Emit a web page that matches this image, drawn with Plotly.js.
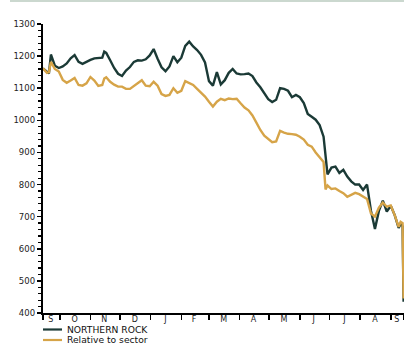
<!DOCTYPE html>
<html><head><meta charset="utf-8">
<script src="https://cdn.plot.ly/plotly-3.0.1.min.js"></script>
<style>
html,body{margin:0;padding:0;background:#fff;}
#band{position:absolute;left:10px;top:0;width:394px;height:2px;background:#cbd8cf;z-index:5;}
#chart{width:404px;height:345px;}
</style>
</head><body>
<div id="band"></div>
<div id="chart"></div>
<script>
const dates = [
'2006-09-14','2006-09-18','2006-09-20','2006-09-22','2006-09-26','2006-09-30',
'2006-10-04','2006-10-08','2006-10-12','2006-10-16','2006-10-20','2006-10-24','2006-10-28',
'2006-11-01','2006-11-05','2006-11-09','2006-11-13','2006-11-15','2006-11-17','2006-11-21','2006-11-25','2006-11-29',
'2006-12-03','2006-12-07','2006-12-11','2006-12-15','2006-12-19','2006-12-23','2006-12-27','2006-12-31',
'2007-01-04','2007-01-08','2007-01-12','2007-01-16','2007-01-20','2007-01-24','2007-01-28',
'2007-02-01','2007-02-05','2007-02-09','2007-02-13','2007-02-17','2007-02-21','2007-02-25',
'2007-03-01','2007-03-05','2007-03-09','2007-03-13','2007-03-17','2007-03-21','2007-03-25','2007-03-29',
'2007-04-02','2007-04-06','2007-04-10','2007-04-14','2007-04-18','2007-04-22','2007-04-26','2007-04-30',
'2007-05-04','2007-05-08','2007-05-12','2007-05-16','2007-05-20','2007-05-24','2007-05-28',
'2007-06-01','2007-06-05','2007-06-09','2007-06-13','2007-06-17','2007-06-21','2007-06-25','2007-06-27','2007-06-29',
'2007-07-03','2007-07-07','2007-07-11','2007-07-15','2007-07-19','2007-07-23','2007-07-27','2007-07-31',
'2007-08-04','2007-08-08','2007-08-12','2007-08-16','2007-08-20','2007-08-24','2007-08-28',
'2007-09-01','2007-09-05','2007-09-09','2007-09-11','2007-09-13','2007-09-14'
];
const northernRock = [
1162,1150,1146,1205,1170,1163,
1168,1177,1193,1203,1182,1176,1183,
1188,1193,1193,1195,1214,1210,1187,1163,1145,
1138,1155,1166,1182,1187,1186,1190,1202,
1222,1192,1165,1153,1168,1200,1181,
1195,1232,1245,1230,1219,1204,1180,
1122,1108,1150,1112,1125,1148,1160,1146,
1143,1144,1146,1138,1118,1103,1083,1066,
1057,1064,1100,1098,1092,1072,1079,
1072,1054,1020,1011,1002,985,949,890,832,
853,856,836,846,825,810,800,800,
783,800,718,662,718,750,716,
734,705,665,678,670,435
];
const relativeToSector = [
1162,1148,1150,1182,1160,1152,
1126,1117,1124,1132,1110,1108,1115,
1135,1124,1107,1110,1130,1134,1120,1111,1105,
1105,1098,1098,1108,1118,1125,1108,1106,
1120,1108,1082,1076,1079,1100,1086,
1092,1122,1115,1110,1098,1086,1074,
1058,1043,1058,1067,1063,1068,1066,1067,
1053,1040,1031,1015,993,970,952,942,
932,934,967,962,958,957,955,
949,940,924,918,900,884,870,785,797,
786,788,780,773,762,768,774,770,
763,755,710,700,728,744,731,
735,705,668,684,680,445
];
const seriesNames = ['NORTHERN ROCK','Relative to sector'];
const seriesColors = ['#1b3a36','#d6a448'];
const monthLabels = ['S','O','N','D','J','F','M','A','M','J','J','A','S'];
const monthLabelDates = ['2006-09-22','2006-10-16','2006-11-15','2006-12-16','2007-01-16','2007-02-14','2007-03-16','2007-04-15','2007-05-16','2007-06-15','2007-07-16','2007-08-16','2007-09-07'];
const monthStarts = ['2006-09-14','2006-10-01','2006-11-01','2006-12-01','2007-01-01','2007-02-01','2007-03-01','2007-04-01','2007-05-01','2007-06-01','2007-07-01','2007-08-01','2007-09-01','2007-09-14 10:00'];
const yTicks = [400,500,600,700,800,900,1000,1100,1200,1300];

const FONT = 'DejaVu Sans, sans-serif';
const traces = [
  {x: dates, y: northernRock, name: seriesNames[0], type: 'scatter', mode: 'lines',
   line: {color: seriesColors[0], width: 2.4}},
  {x: dates, y: relativeToSector, name: seriesNames[1], type: 'scatter', mode: 'lines',
   line: {color: seriesColors[1], width: 2.4}}
];
const W = 361, H = 289;
const layout = {
  width: 404, height: 345,
  margin: {l: 43, r: 0, t: 24, b: 32, pad: 0},
  paper_bgcolor: '#fff', plot_bgcolor: '#fff',
  showlegend: false,
  xaxis: {
    type: 'date', range: ['2006-09-14', '2007-09-14 10:00'],
    showline: true, linecolor: '#000', linewidth: 2,
    showgrid: false, zeroline: false,
    tickmode: 'array', tickvals: monthLabelDates, ticktext: monthLabels,
    ticks: '', ticklabelstandoff: -3, tickfont: {family: FONT, size: 8, color: '#222'},
    minor: {tickmode: 'array', tickvals: monthStarts, ticks: 'outside', ticklen: 5, tickwidth: 1.6, tickcolor: '#000', showgrid: false}
  },
  yaxis: {
    range: [400, 1300],
    showline: true, linecolor: '#000', linewidth: 2.2,
    showgrid: false, zeroline: false,
    tickmode: 'array', tickvals: yTicks,
    ticks: 'outside', ticklen: 4, tickwidth: 1.5, tickcolor: '#000',
    tickfont: {family: FONT, size: 8.5, color: '#222'},
    minor: {dtick: 20, ticks: 'outside', ticklen: 3, tickwidth: 1.2, tickcolor: '#000', showgrid: false}
  },
  shapes: [
    {type: 'line', xref: 'paper', yref: 'paper', x0: 0, x1: 19/W, y0: -16.5/H, y1: -16.5/H, line: {color: seriesColors[0], width: 2.2}},
    {type: 'line', xref: 'paper', yref: 'paper', x0: 0, x1: 19/W, y0: -27/H, y1: -27/H, line: {color: seriesColors[1], width: 2.2}}
  ],
  annotations: [
    {xref: 'paper', yref: 'paper', x: 23/W, y: -16/H, xanchor: 'left', yanchor: 'middle', showarrow: false, borderpad: 0, text: seriesNames[0], font: {family: FONT, size: 9.2, color: '#111'}},
    {xref: 'paper', yref: 'paper', x: 23/W, y: -26.6/H, xanchor: 'left', yanchor: 'middle', showarrow: false, borderpad: 0, text: seriesNames[1], font: {family: FONT, size: 9.2, color: '#111'}}
  ]
};
Plotly.newPlot('chart', traces, layout, {displayModeBar: false, staticPlot: true});
</script>
</body></html>
